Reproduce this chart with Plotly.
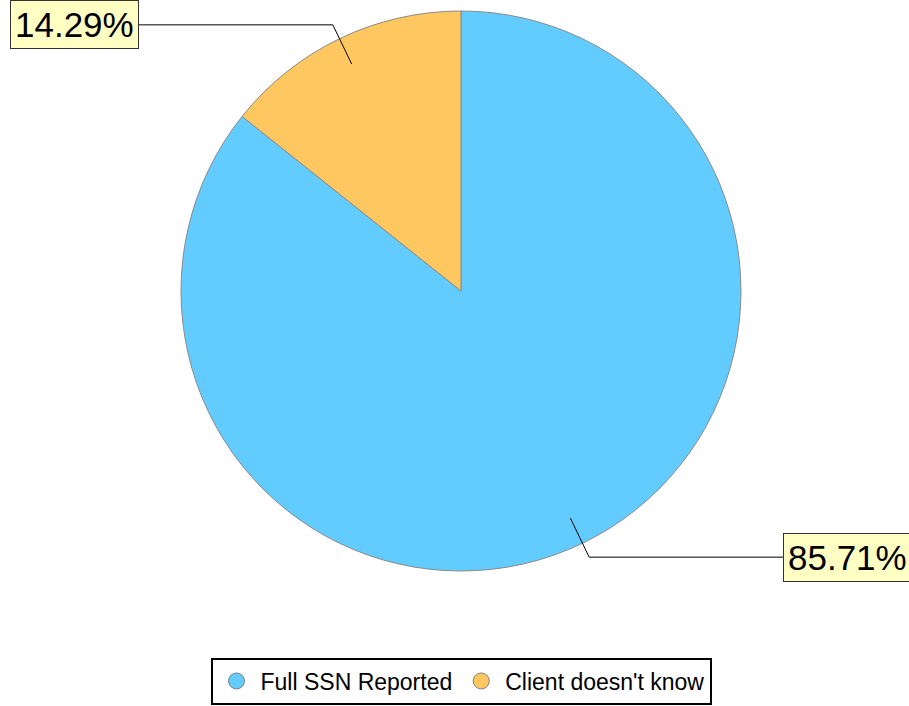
import math
import plotly.graph_objects as go

labels = ["Full SSN Reported", "Client doesn't know"]
values = [6, 1]
colors = ["#62CBFF", "#FFC75F"]
label_texts = ["85.71%", "14.29%"]

W, H = 909, 706
cx, cy, R = 461, 291, 280

fig = go.Figure()
fig.add_trace(go.Pie(
    labels=labels, values=values, sort=False, direction="clockwise", rotation=0,
    marker=dict(colors=colors, line=dict(color="#8a8a8a", width=1)),
    textinfo="none", hoverinfo="label+percent", showlegend=False,
    domain=dict(x=[(cx - R) / W, (cx + R) / W], y=[1 - (cy + R) / H, 1 - (cy - R) / H]),
))

# legend entries as circles
for lab, col in zip(labels, colors):
    fig.add_trace(go.Scatter(x=[None], y=[None], mode="markers", name=lab,
                             marker=dict(symbol="circle", size=21, color=col,
                                         line=dict(color="#7f7f7f", width=1))))

def px(x, y):
    return x / W, 1 - y / H

total = sum(values)
cum = 0
shapes, annos = [], []
for v, t in zip(values, label_texts):
    mid = (cum + v / 2) / total * 2 * math.pi
    cum += v
    s, c = math.sin(mid), math.cos(mid)
    p1 = (cx + 0.9 * R * s, cy - 0.9 * R * c)
    p2 = (cx + 1.055 * R * s, cy - 1.055 * R * c)
    side = 1 if s > 0 else -1
    p3 = (p2[0] + side * 194, p2[1])
    for a, b in [(p1, p2), (p2, p3)]:
        x0, y0 = px(*a)
        x1, y1 = px(*b)
        shapes.append(dict(type="line", xref="paper", yref="paper", x0=x0, y0=y0, x1=x1, y1=y1,
                           line=dict(color="black", width=1)))
    ax, ay = px(*p3)
    annos.append(dict(x=ax, y=ay, xref="paper", yref="paper", text=t, showarrow=False,
                      xanchor="left" if side > 0 else "right", yanchor="middle",
                      font=dict(size=35, color="black", family="Liberation Sans, Arial"),
                      bgcolor="#FFFFC4", bordercolor="#333333", borderwidth=1, borderpad=4))

fig.update_layout(
    width=W, height=H, margin=dict(l=0, r=0, t=0, b=0),
    paper_bgcolor="white", plot_bgcolor="white",
    xaxis=dict(visible=False), yaxis=dict(visible=False),
    shapes=shapes, annotations=annos,
    font=dict(family="Liberation Sans, Arial", color="black"),
    legend=dict(orientation="h", x=cx / W, xanchor="center", y=(H - 681) / H, yanchor="middle",
                bordercolor="black", borderwidth=2, font=dict(size=23), itemwidth=38,
                itemsizing="trace", bgcolor="white"),
)
fig.write_html("out.html", config={"displayModeBar": False},
               post_script="document.body.style.margin='0';")
